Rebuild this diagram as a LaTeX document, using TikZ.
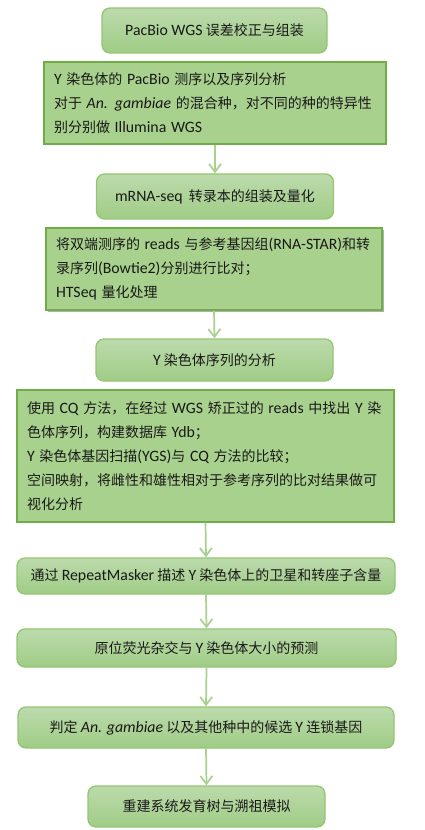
\documentclass[tikz,border=0pt]{standalone}
\usepackage{fontspec}
\setmainfont{Noto Sans CJK SC}
\newfontfamily\en[Scale=1.13]{Carlito}
\usepackage{xcolor}
\usetikzlibrary{arrows.meta,shadows}
\definecolor{leafgreen}{HTML}{A9D18E}
\definecolor{darkgreen}{HTML}{70AD47}
\definecolor{topgreen}{HTML}{BCDBAC}
\definecolor{botgreen}{HTML}{A0CC86}
\definecolor{rimgreen}{HTML}{94C672}
\newcommand{\la}[1]{{\en #1}}
\newcommand{\spname}[1]{{\en\itshape #1}}

\begin{document}
\begin{tikzpicture}[x=0.75pt, y=-0.75pt,
        rbox/.style = {draw=rimgreen, line width=1pt, rounded corners=6pt, top color=topgreen, bottom color=botgreen, align=center, inner sep=0pt},
        sbox/.style = {draw=darkgreen, line width=1pt, fill=leafgreen, align=left, inner xsep=7.5pt, inner ysep=0pt},
        arr/.style = {draw=leafgreen, line width=1.3pt, -{Straight Barb[length=6pt,width=9pt]}},
        every node/.style = {font=\fontsize{10.5}{18}\selectfont, text=black!90}
    ]
        \useasboundingbox (0,0) rectangle (424,830);
        \node[rbox, minimum width=168.75pt, minimum height=33.75pt] (wgs) at (214.5,30.5) {\la{PacBio WGS} 误差校正与组装};
        \node[sbox, text width=241.5pt, minimum height=61.5pt] (ychr) at (215,103) {\mbox{\la{Y} 染色体的 \la{PacBio} 测序以及序列分析}\\\mbox{对于 \spname{An. gambiae} 的混合种，对不同的种的特异性}\\\mbox{别分别做 \la{Illumina WGS}}};
        \node[rbox, minimum width=177.75pt, minimum height=33.75pt] (rna) at (215,196.5) {\la{mRNA-seq}\ \ 转录本的组装及量化};
        \node[sbox, text width=237pt, minimum height=61.5pt, drop shadow={shadow xshift=1.2pt, shadow yshift=-1.8pt, fill=black!45, opacity=0.7}] (map) at (214,269) {\mbox{将双端测序的 \la{reads} 与参考基因组\la{(RNA-STAR)}和转}\\\mbox{录序列\la{(Bowtie2)}分别进行比对；}\\\mbox{\la{HTSeq} 量化处理}};
        \node[rbox, minimum width=177.75pt, minimum height=31.5pt] (seq) at (214.5,360) {\la{Y} 染色体序列的分析};
        \node[sbox, text width=267.75pt, minimum height=99pt] (cq) at (205.5,456) {\mbox{使用 \la{CQ} 方法，在经过 \la{WGS} 矫正过的 \la{reads} 中找出 \la{Y} 染}\\\mbox{色体序列，构建数据库 \la{Ydb}；}\\\mbox{\la{Y} 染色体基因扫描\la{(YGS)}与 \la{CQ} 方法的比较；}\\\mbox{空间映射，将雌性和雄性相对于参考序列的比对结果做可}\\\mbox{视化分析}};
        \node[rbox, minimum width=283.5pt, minimum height=27pt] (rep) at (206,576) {通过 \la{RepeatMasker} 描述 \la{Y} 染色体上的卫星和转座子含量};
        \node[rbox, minimum width=284.25pt, minimum height=28.5pt] (fish) at (206.5,648) {原位荧光杂交与 \la{Y} 染色体大小的预测};
        \node[rbox, minimum width=282pt, minimum height=30.75pt] (gene) at (206,727.5) {判定 \spname{An. gambiae} 以及其他种中的候选 \la{Y} 连锁基因};
        \node[rbox, minimum width=177.75pt, minimum height=30.75pt] (tree) at (206.5,806.5) {重建系统发育树与溯祖模拟};
        \draw[arr] (ychr.south) -- (rna.north);
        \draw[arr] (map.south) -- (seq.north);
        \draw[arr] (cq.south) -- (rep.north);
        \draw[arr] (rep.south) -- (fish.north);
        \draw[arr] (fish.south) -- (gene.north);
        \draw[arr] (gene.south) -- (tree.north);
    \end{tikzpicture}
\end{document}
